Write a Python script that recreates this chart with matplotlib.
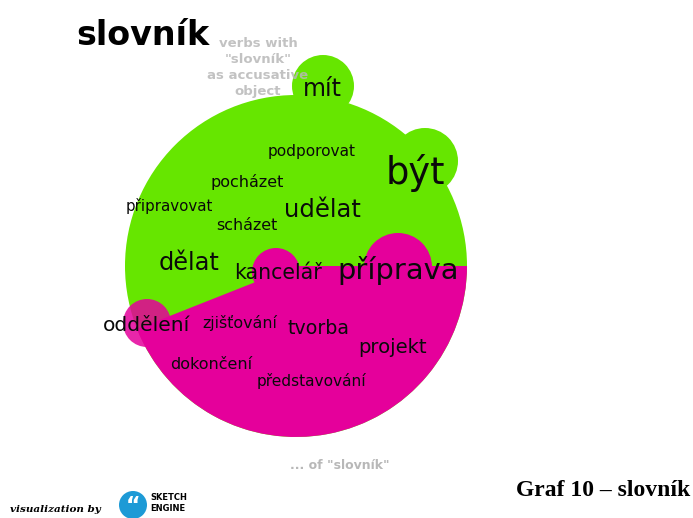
import matplotlib.pyplot as plt
from matplotlib.patches import Circle, Wedge

# word sketch data: headword, collocations and their salience
headword = 'slovník'
verbs = ['mít', 'podporovat', 'být', 'pocházet', 'připravovat', 'udělat', 'scházet', 'dělat']
verb_scores = [17.0, 11.1, 26.5, 11.5, 10.8, 17.5, 11.4, 17.3]
nouns = ['kancelář', 'příprava', 'oddělení', 'zjišťování', 'tvorba', 'projekt', 'dokončení', 'představování']
noun_scores = [14.8, 20.8, 14.6, 11.4, 13.7, 14.1, 11.5, 11.1]
verb_label = 'verbs with\n"slovník"\nas accusative\nobject'
noun_label = '... of "slovník"'
verb_share = 0.56  # share of the circle for the verb relation

# layout (left x, baseline y) in pixels
verb_pos = [(303, 96), (268, 156), (386, 184), (210, 187), (126, 211), (284, 217), (216, 230), (159, 270)]
noun_pos = [(234, 279), (337, 279), (103, 331), (202, 328), (288, 334), (358, 353), (170, 369), (257, 386)]

GREEN = '#66e600'
MAGENTA = '#e5009b'

fig = plt.figure(figsize=(6.93, 5.18), dpi=100)
ax = fig.add_axes([0, 0, 1, 1])
ax.set_xlim(0, 693)
ax.set_ylim(518, 0)
ax.axis('off')

# main circle split into two relations
cx, cy, r = 296, 266, 171
ax.add_patch(Circle((cx, cy), r, color=GREEN, lw=0, zorder=1))
ax.add_patch(Wedge((cx, cy), r, 0, 360 * (1 - verb_share), color=MAGENTA, lw=0, zorder=2))

# bubbles of the strongest collocations
ax.add_patch(Circle((323, 86), 31, color=GREEN, lw=0, zorder=0.5))
ax.add_patch(Circle((425, 161), 33, color=GREEN, lw=0, zorder=0.5))
ax.add_patch(Circle((276, 272), 24, color=MAGENTA, lw=0, zorder=3))
ax.add_patch(Circle((398, 267), 34, color=MAGENTA, lw=0, zorder=3))
ax.add_patch(Circle((147, 323), 24, color=MAGENTA, alpha=0.85, lw=0, zorder=3))

for word, score, (x, y) in zip(verbs, verb_scores, verb_pos):
    ax.text(x, y, word, fontsize=score, color='#0a0a0a', ha='left', va='baseline', zorder=5)
for word, score, (x, y) in zip(nouns, noun_scores, noun_pos):
    ax.text(x, y, word, fontsize=score, color='#0a0a0a', ha='left', va='baseline', zorder=5)

ax.text(76, 45, headword, fontsize=24, fontweight='bold', color='black', ha='left', va='baseline', zorder=5)
for i, line in enumerate(verb_label.split('\n')):
    ax.text(258, 47 + 16 * i, line, fontsize=9.5, fontweight='bold', color='#b8b8b8', alpha=0.85,
            ha='center', va='baseline', zorder=6)
ax.text(340, 469, noun_label, fontsize=9, fontweight='bold', color='#b8b8b8', ha='center', va='baseline')

# footer
ax.text(10, 512, 'visualization by', fontsize=7.5, fontweight='bold', fontstyle='italic',
        family='DejaVu Serif', ha='left', va='baseline')
ax.add_patch(Circle((133, 505), 14, color='#1d9ad6', lw=0))
ax.text(133, 506, '\u201c', fontsize=16, fontweight='bold', color='white', ha='center', va='center')
ax.text(150, 500, 'SKETCH', fontsize=6, fontweight='bold', ha='left', va='baseline')
ax.text(150, 511, 'ENGINE', fontsize=6, fontweight='bold', ha='left', va='baseline')
ax.text(690, 496, 'Graf 10 \u2013 slovník', fontsize=17, fontweight='bold', family='Liberation Serif',
        ha='right', va='baseline')

fig.savefig('out.png', dpi=100)
